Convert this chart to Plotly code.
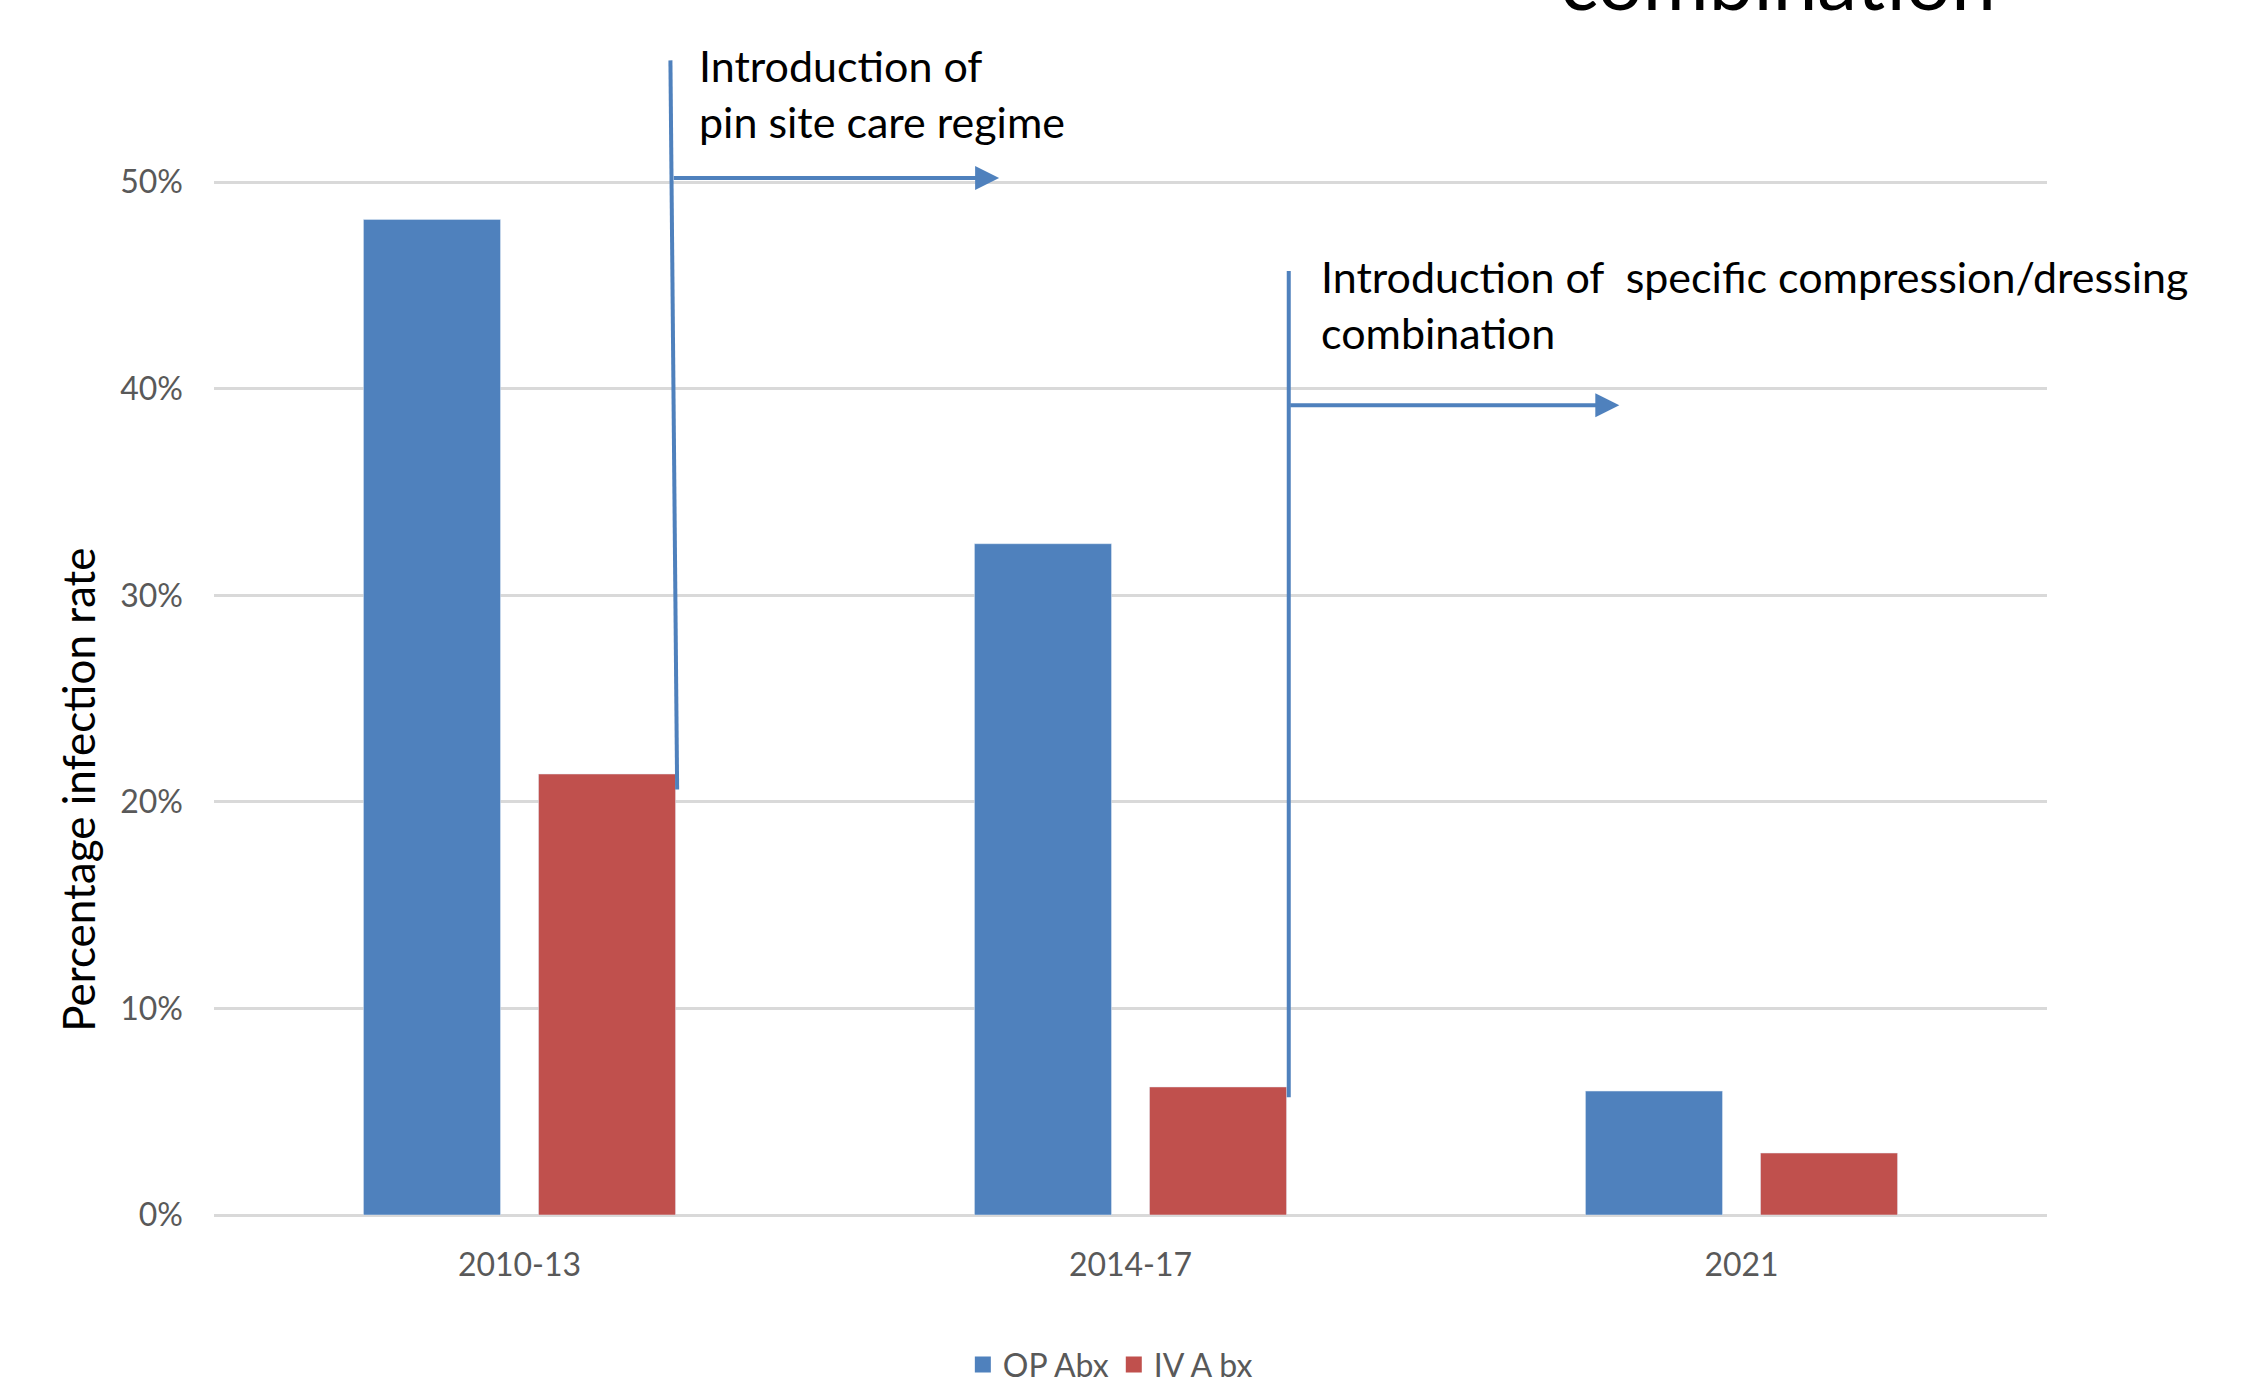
import plotly.graph_objects as go

categories = ["2010-13", "2014-17", "2021"]
op_abx = [0.482, 0.325, 0.060]
iv_abx = [0.2135, 0.062, 0.030]
series_names = ["OP Abx", "IV A bx"]
y_ticks = [0, 0.1, 0.2, 0.3, 0.4, 0.5]
y_tick_labels = ["0%", "10%", "20%", "30%", "40%", "50%"]
y_title = "Percentage infection rate"

BLUE = "#4F81BD"
RED = "#C0504D"
GRAY = "#595959"
FONT = "Lato"

fig = go.Figure()
fig.add_trace(go.Bar(x=categories, y=op_abx, name=series_names[0], marker_color=BLUE, showlegend=False))
fig.add_trace(go.Bar(x=categories, y=iv_abx, name=series_names[1], marker_color=RED, showlegend=False))
# legend entries with larger square swatches
for name, col in zip(series_names, [BLUE, RED]):
    fig.add_trace(go.Scatter(x=[None], y=[None], mode="markers", name=name,
                             marker=dict(symbol="square", size=20, color=col)))

# vertical lines of the callouts
fig.add_shape(type="line", xref="x", yref="y", x0=0.247, y0=0.559, x1=0.258, y1=0.206,
              line=dict(color=BLUE, width=4))
fig.add_shape(type="line", xref="x", yref="y", x0=1.259, y0=0.457, x1=1.259, y1=0.057,
              line=dict(color=BLUE, width=4))

# horizontal arrows
fig.add_annotation(x=0.785, y=0.502, ax=0.25, ay=0.502, xref="x", yref="y", axref="x", ayref="y",
                   text="", showarrow=True, arrowhead=2, arrowsize=1.2, arrowwidth=4, arrowcolor=BLUE)
fig.add_annotation(x=1.800, y=0.392, ax=1.259, ay=0.392, xref="x", yref="y", axref="x", ayref="y",
                   text="", showarrow=True, arrowhead=2, arrowsize=1.2, arrowwidth=4, arrowcolor=BLUE)

# callout texts
fig.add_annotation(x=0.291, y=0.543, xref="x", yref="y", xanchor="left", yanchor="middle",
                   text="Introduction of<br>pin site care regime", showarrow=False, align="left",
                   font=dict(family=FONT, size=43, color="black"))
fig.add_annotation(x=1.308, y=0.441, xref="x", yref="y", xanchor="left", yanchor="middle",
                   text="Introduction of  specific compression/dressing<br>combination", showarrow=False,
                   align="left", font=dict(family=FONT, size=43, color="black"))

# y-axis title (placed lower than the plot centre, as in the reference)
fig.add_annotation(x=-0.0742, y=0.355, xref="paper", yref="paper", xanchor="center", yanchor="middle",
                   text=y_title, textangle=-90, showarrow=False,
                   font=dict(family=FONT, size=44, color="black"))

# cut-off slide title at the very top
fig.add_annotation(x=0.853, y=0.9903, xref="paper", yref="paper", xanchor="center", yanchor="bottom",
                   text="combination", showarrow=False,
                   font=dict(family=FONT, size=80, color="black"))

fig.update_layout(
    width=2259, height=1384,
    margin=dict(l=214, r=212, t=17, b=169, autoexpand=False),
    paper_bgcolor="white", plot_bgcolor="white",
    barmode="group", bargap=0.427, bargroupgap=0.217,
    font=dict(family=FONT, color=GRAY),
    legend=dict(orientation="h", x=0.489, xanchor="center", y=0.014, yref="container", yanchor="middle",
                font=dict(family=FONT, size=32, color=GRAY), itemwidth=30),
    showlegend=True,
)
fig.update_xaxes(range=[-0.5, 2.5], showgrid=False, showline=False, ticks="",
                 tickfont=dict(size=32, color=GRAY), ticklabelstandoff=28)
fig.update_yaxes(range=[0, 0.58], tickvals=y_ticks, ticktext=y_tick_labels,
                 showgrid=True, gridcolor="#D9D9D9", gridwidth=3,
                 zeroline=True, zerolinecolor="#D9D9D9", zerolinewidth=3,
                 showline=False, ticks="", tickfont=dict(size=32, color=GRAY),
                 ticklabelstandoff=30)

fig.write_html("out.html")
